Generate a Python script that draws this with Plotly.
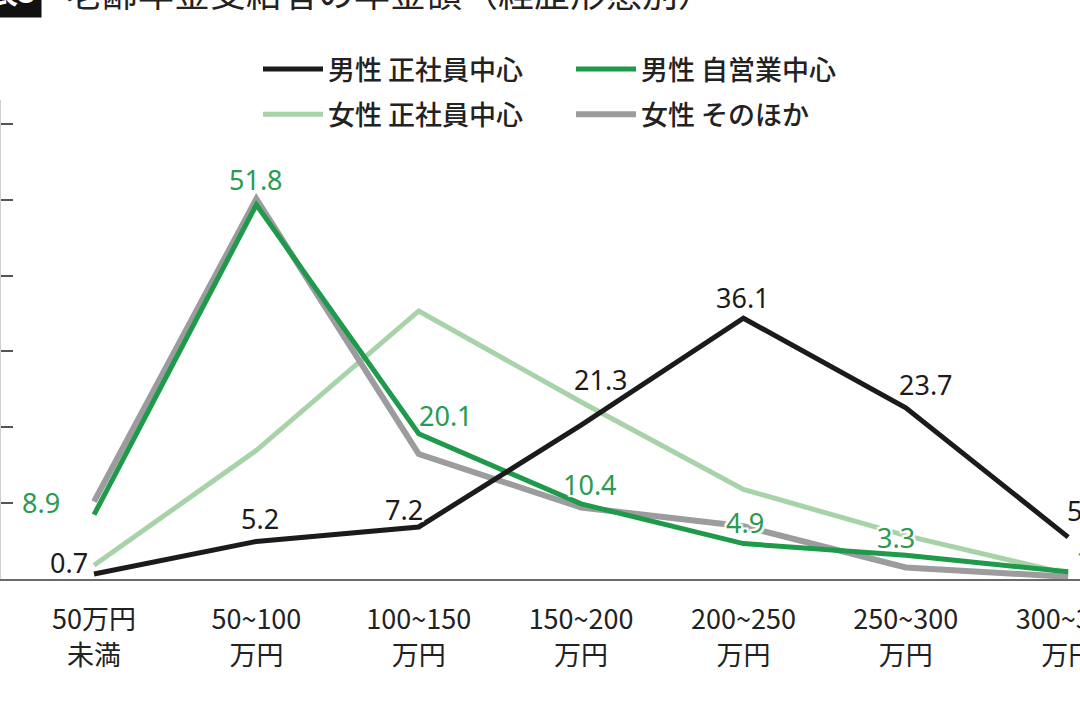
import plotly.graph_objects as go

# --- data ---
categories = ["50万円<br>未満", "50~100<br>万円", "100~150<br>万円", "150~200<br>万円",
              "200~250<br>万円", "250~300<br>万円", "300~350<br>万円"]

male_fulltime = [0.7, 5.2, 7.2, 21.3, 36.1, 23.7, 5.8]      # 男性 正社員中心
male_selfemp = [8.9, 51.8, 20.1, 10.4, 4.9, 3.3, 1.0]       # 男性 自営業中心
female_fulltime = [1.9, 17.8, 37.1, 24.5, 12.4, 6.0, 0.7]   # 女性 正社員中心
female_other = [10.7, 52.6, 17.3, 9.9, 7.3, 1.6, 0.3]       # 女性 そのほか

series_names = ["男性 正社員中心", "男性 自営業中心", "女性 正社員中心", "女性 そのほか"]
title_text = "老齢年金受給者の年金額（経歴形態別）"

# --- styling ---
W, H = 1080, 709
M_L, M_R, M_T, M_B = 1, 0, 100, 130
BLACK = "#1b1b1b"
GREEN = "#1f9a4b"
LIGHT = "#a8d3a8"
GRAY = "#9c9c9e"
LABEL_GREEN = "#2a9a50"
HALO = ("white 2px 0px 1px, white -2px 0px 1px, white 0px 2px 1px, white 0px -2px 1px,"
        " white 2px 2px 1px, white -2px -2px 1px, white 2px -2px 1px, white -2px 2px 1px")

# label offsets in px (xshift, yshift) for the labelled series
black_offsets = [(-25, 11), (4, 23), (-15, 17), (20, 46), (0, 21), (20, 23), (18, 27)]
green_offsets = [(-53, 12), (0, 25), (27, 18), (9, 19), (2, 21), (-10, 18), (27, 12)]


def py(px):
    """pixel row (from top of page) -> paper y"""
    return (H - M_B - px) / (H - M_T - M_B)


def px_x(px):
    return (px - M_L) / (W - M_L - M_R)


fig = go.Figure()

# draw order: light green, gray, green, black (black on top)
fig.add_trace(go.Scatter(x=categories, y=female_fulltime, name=series_names[2], mode="lines",
                         line=dict(color=LIGHT, width=5), legend="legend", legendrank=2,
                         legendgroup="c"))
fig.add_trace(go.Scatter(x=categories, y=female_other, name=series_names[3], mode="lines",
                         line=dict(color=GRAY, width=6), legend="legend2", legendrank=2,
                         legendgroup="d"))
fig.add_trace(go.Scatter(x=categories, y=male_selfemp, name=series_names[1], mode="lines",
                         line=dict(color=GREEN, width=5), legend="legend2", legendrank=1,
                         legendgroup="b"))
fig.add_trace(go.Scatter(x=categories, y=male_fulltime, name=series_names[0], mode="lines",
                         line=dict(color=BLACK, width=5), legend="legend", legendrank=1,
                         legendgroup="a"))

label_font = "Noto Sans, sans-serif"
for vals, offs, col in [(male_fulltime, black_offsets, BLACK), (male_selfemp, green_offsets, LABEL_GREEN)]:
    for c, v, (dx, dy) in zip(categories, vals, offs):
        fig.add_annotation(x=c, y=v, text=f"{v:.1f}", showarrow=False, xshift=dx, yshift=dy,
                           font=dict(family=label_font, size=27, color=col, shadow=HALO))

# title (cut off at the top, like the reference)
fig.add_annotation(xref="paper", yref="paper", x=px_x(42), y=py(-10), xanchor="right", yanchor="middle",
                   text="<b>表3</b>", showarrow=False, bgcolor="#111", borderpad=5,
                   font=dict(family="Noto Sans CJK JP", size=30, color="white"))
fig.add_annotation(xref="paper", yref="paper", x=px_x(64), y=py(-9), xanchor="left", yanchor="middle",
                   text=title_text, showarrow=False,
                   font=dict(family="Noto Sans CJK JP", size=36, color="#222"))

legend_style = dict(
    orientation="v", xref="container", yref="container", yanchor="top", xanchor="left",
    bgcolor="rgba(0,0,0,0)", borderwidth=0, itemwidth=60, tracegroupgap=7,
    traceorder="grouped",
    font=dict(family="Noto Sans CJK JP", size=27, color="#222", weight=500),
)

fig.update_layout(
    width=W, height=H,
    margin=dict(l=M_L, r=M_R, t=M_T, b=M_B, autoexpand=False),
    paper_bgcolor="white", plot_bgcolor="white",
    showlegend=True,
    legend=dict(legend_style, x=258 / W, y=1 - 45 / H),
    legend2=dict(legend_style, x=571 / W, y=1 - 45 / H),
    xaxis=dict(
        type="category", range=[-0.573, 6.073],
        showline=True, linecolor="#6a6a6a", linewidth=2,
        showgrid=False, zeroline=False, ticks="",
        ticklabelstandoff=16, tickangle=0,
        tickfont=dict(family="Liberation Sans Narrow, Noto Sans CJK JP", size=27, color="#222"),
    ),
    yaxis=dict(
        range=[0, 66.3], tick0=0, dtick=10.5,
        showline=True, linecolor="#cfcfcf", linewidth=1,
        showgrid=False, zeroline=False,
        ticks="inside", ticklen=12, tickwidth=2, tickcolor="#555",
        showticklabels=False,
    ),
)

# page has a default 8px body margin; drop it so the chart sits flush like the reference
fig.write_html("out.html", config={"displayModeBar": False},
               post_script="document.body.style.margin='0';")
